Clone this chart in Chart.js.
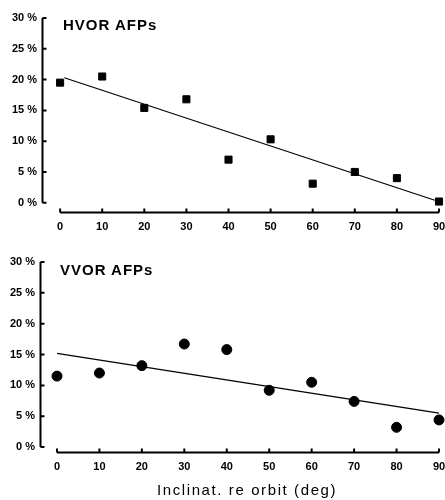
<!DOCTYPE html>
<html>
<head>
<meta charset="utf-8">
<script src="https://cdn.jsdelivr.net/npm/chart.js@4"></script>
<style>
  body { margin: 0; background: #fff; }
  .panel { position: relative; width: 445px; }
  .panel-title, .axis-title {
    position: absolute; font-family: "Liberation Sans", Arial, sans-serif; color: #000;
    white-space: nowrap;
  }
  .panel-title { font-size: 15px; font-weight: bold; letter-spacing: 1px; }
  .axis-title { font-size: 15px; letter-spacing: 1.6px; }
</style>
</head>
<body>
<div class="panel" style="height:240px">
  <canvas id="hvorChart" width="445" height="240"></canvas>
  <div class="panel-title" style="left:63px; top:16px">HVOR AFPs</div>
</div>
<div class="panel" style="height:260px">
  <canvas id="vvorChart" width="445" height="260"></canvas>
  <div class="panel-title" style="left:60px; top:21px">VVOR AFPs</div>
  <div class="axis-title" style="left:157px; top:241px">Inclinat. re orbit (deg)</div>
</div>
<script>
// --- data ---
const angles = [0, 10, 20, 30, 40, 50, 60, 70, 80, 90];
const hvorValues = [19.5, 20.5, 15.4, 16.8, 7.0, 10.3, 3.1, 5.0, 4.0, 0.2];
const vvorValues = [11.5, 12.0, 13.2, 16.7, 15.8, 9.2, 10.5, 7.4, 3.2, 4.4];
const hvorFitX = [1, 89];
const hvorFitY = [20.3, 0.4];
const vvorFitX = [0, 90];
const vvorFitY = [15.2, 5.5];
const yTicks = [0, 5, 10, 15, 20, 25, 30];
const xTicks = [0, 10, 20, 30, 40, 50, 60, 70, 80, 90];

const tickFont = { family: "'Liberation Sans', Arial, sans-serif", size: 11, weight: 'bold' };

// axis lines + inward tick marks like the old plotter figure
const axisPlugin = {
  id: 'oldAxes',
  afterDatasetsDraw(chart) {
    const { ctx, chartArea, scales } = chart;
    const x = scales.x, y = scales.y;
    const left = Math.round(chartArea.left) + 0.5;
    const bottom = Math.round(chartArea.bottom) + 0.5;
    ctx.save();
    ctx.strokeStyle = '#000';
    ctx.lineWidth = 2;
    ctx.beginPath();
    // y axis
    ctx.moveTo(left, y.getPixelForValue(30));
    ctx.lineTo(left, y.getPixelForValue(0));
    yTicks.forEach(v => {
      const py = y.getPixelForValue(v);
      ctx.moveTo(left, py);
      ctx.lineTo(left + 4, py);
    });
    // x axis
    ctx.moveTo(x.getPixelForValue(0), bottom);
    ctx.lineTo(x.getPixelForValue(90), bottom);
    xTicks.forEach(v => {
      const px = x.getPixelForValue(v);
      ctx.moveTo(px, bottom);
      ctx.lineTo(px, bottom - 4);
    });
    ctx.stroke();
    ctx.restore();
  }
};

function makeChart(id, values, fitX, fitY, opts) {
  const ctx = document.getElementById(id).getContext('2d');
  return new Chart(ctx, {
    type: 'scatter',
    data: {
      datasets: [
        {
          data: angles.map((a, i) => ({ x: a, y: values[i] })),
          pointStyle: opts.pointStyle,
          pointRadius: 5,
          backgroundColor: '#000',
          borderColor: '#000',
          showLine: false,
          clip: false
        },
        {
          data: fitX.map((a, i) => ({ x: a, y: fitY[i] })),
          showLine: true,
          borderColor: '#000',
          borderWidth: 1.2,
          pointRadius: 0,
          fill: false,
          clip: false
        }
      ]
    },
    options: {
      responsive: false,
      animation: false,
      layout: { padding: { top: opts.padTop, right: 0, left: 0, bottom: 0 } },
      plugins: { legend: { display: false }, tooltip: { enabled: false } },
      scales: {
        x: {
          type: 'linear',
          min: opts.xMin, max: 90,
          afterBuildTicks: s => { s.ticks = xTicks.map(v => ({ value: v })); },
          afterFit: s => { s.height = opts.xHeight; s.paddingRight = 0; },
          grid: { display: false, drawTicks: false, tickLength: 0 },
          border: { display: false },
          ticks: { color: '#000', font: tickFont, padding: 8, maxRotation: 0 }
        },
        y: {
          min: opts.yMin, max: 30,
          afterBuildTicks: s => { s.ticks = yTicks.map(v => ({ value: v })); },
          afterFit: s => { s.width = opts.yWidth; },
          grid: { display: false, drawTicks: false, tickLength: 0 },
          border: { display: false },
          ticks: { color: '#000', font: tickFont, padding: 5, callback: v => v + ' %' }
        }
      }
    },
    plugins: [axisPlugin]
  });
}

makeChart('hvorChart', hvorValues, hvorFitX, hvorFitY, {
  pointStyle: 'rect', padTop: 18, xMin: -4.3, yMin: -1.5, xHeight: 28, yWidth: 42
});
makeChart('vvorChart', vvorValues, vvorFitX, vvorFitY, {
  pointStyle: 'circle', padTop: 22, xMin: -4.0, yMin: -0.8, xHeight: 48, yWidth: 40
});
</script>
</body>
</html>
